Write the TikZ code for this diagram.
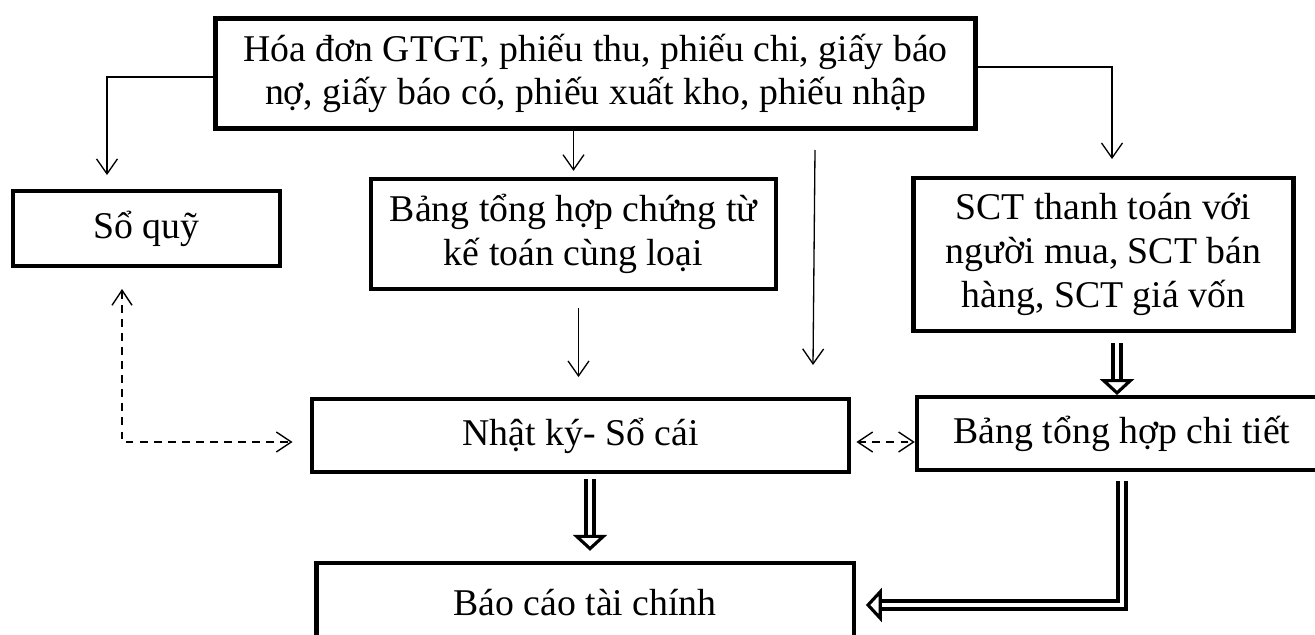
\documentclass[tikz,border=0pt]{standalone}
\usepackage{fontspec}
\setmainfont{Liberation Serif}
\usetikzlibrary{arrows.meta}
\tikzset{
  hop/.style={draw, line width=2.5pt, align=center, inner sep=0pt, font=\fontsize{21.5}{24.8}\selectfont},
  mui/.style={-{Straight Barb[length=0.3cm,width=0.42cm]}, line width=0.75pt},
  net/.style={{Straight Barb[length=0.3cm,width=0.4cm]}-{Straight Barb[length=0.3cm,width=0.4cm]}, dash pattern=on 4.5pt off 3.5pt, line width=0.8pt},
  kep/.style={double, double distance=2.5pt, line width=1.9pt, -{Triangle[open,length=0.32cm,width=0.68cm,line width=1.8pt]}}
}

\begin{document}
\begin{tikzpicture}[x=0.02cm, y=-0.02cm]
  \useasboundingbox (0,0) rectangle (1315,635);

  \node[hop, minimum width=15.2cm, minimum height=2.2cm] (nguon) at (595.5,73.5)
    {Hóa đơn GTGT, phiếu thu, phiếu chi, giấy báo\\nợ, giấy báo có, phiếu xuất kho, phiếu nhập};
  \node[hop, minimum width=5.35cm, minimum height=1.5cm] (quy) at (146.5,228.5) {Sổ quỹ};
  \node[hop, minimum width=8.1cm, minimum height=2.2cm] (chungtu) at (573.5,234)
    {Bảng tổng hợp chứng từ\\kế toán cùng loại};
  \node[hop, minimum width=7.6cm, minimum height=3.05cm] (sct) at (1103.5,254.5)
    {SCT thanh toán với\\người mua, SCT bán\\hàng, SCT giá vốn};
  \node[hop, minimum width=10.75cm, minimum height=1.45cm] (nhatky) at (580.5,435.5) {Nhật ký- Sổ cái};
  \node[hop, minimum width=8.2cm, minimum height=1.45cm] (chitiet) at (1122,433.5) {Bảng tổng hợp chi tiết};
  \node[hop, minimum width=10.75cm, minimum height=1.6cm] (baocao) at (585,603) {Báo cáo tài chính};

  \coordinate (q1) at (107,190);
  \coordinate (q2) at (122,267);
  \coordinate (tren) at (815,150);
  \coordinate (duoi) at (813,365);

  % mui ten don
  \draw[mui, shorten >=0.3cm] ([yshift=-0.07cm]nguon.west) -| (q1);
  \draw[mui, shorten >=0.12cm] (chungtu.north |- nguon.south) -- (chungtu.north);
  \draw[mui, shorten >=0.34cm] ([yshift=0.13cm]nguon.east) -| ([xshift=0.17cm]sct.north);
  \draw[mui] (tren) -- (duoi);
  \draw[mui, shorten <=0.34cm, shorten >=0.4cm] ([xshift=0.1cm]chungtu.south) -- ([xshift=0.1cm]chungtu.south |- nhatky.north);

  % net dut
  \draw[net, shorten <=0.44cm, shorten >=0.34cm] (q2) |- ([yshift=-0.13cm]nhatky.west);
  \draw[net, shorten <=0.1cm] ([yshift=-0.13cm]nhatky.east) -- ([yshift=-0.13cm]nhatky.east -| chitiet.west);

  % mui ten kep
  \draw[kep, shorten <=0.2cm] ([xshift=0.27cm]sct.south) -- ([xshift=0.27cm]sct.south |- chitiet.north);
  \draw[kep, shorten <=0.1cm, shorten >=0.2cm] ([xshift=0.19cm]nhatky.south) -- ([xshift=0.19cm]nhatky.south |- baocao.north);
  \draw[kep, shorten <=0.18cm, shorten >=0.2cm] (chitiet.south) |- (baocao.east |- 0,605);
\end{tikzpicture}
\end{document}
